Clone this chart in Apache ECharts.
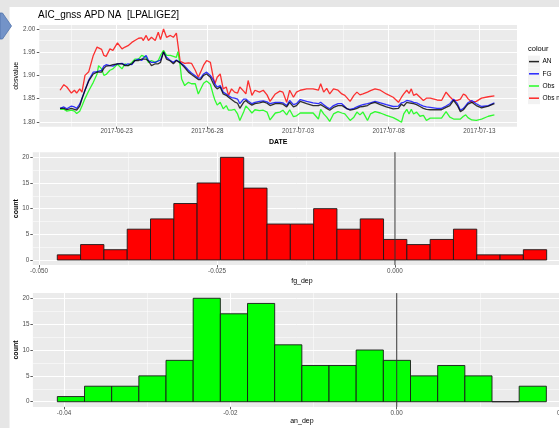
<!DOCTYPE html>
<html>
<head>
<meta charset="utf-8">
<script src="https://cdn.jsdelivr.net/npm/echarts@6/dist/echarts.min.js"></script>
<style>
html,body{margin:0;padding:0;background:#fff}
#chart{width:559px;height:428px}
</style>
</head>
<body>
<div id="chart"></div>
<script>
const dates = [
  '2017-06-19 21:00','2017-06-20 02:00','2017-06-20 06:00','2017-06-20 12:00','2017-06-20 16:00','2017-06-20 19:00','2017-06-20 23:00','2017-06-21 02:00',
  '2017-06-21 06:00','2017-06-21 11:00','2017-06-21 17:00','2017-06-21 22:00','2017-06-22 00:00','2017-06-22 04:00','2017-06-22 07:00','2017-06-22 10:00',
  '2017-06-22 15:00','2017-06-22 19:00','2017-06-23 01:00','2017-06-23 07:00','2017-06-23 11:00','2017-06-23 15:00','2017-06-23 20:00','2017-06-24 00:00',
  '2017-06-24 05:00','2017-06-24 09:00','2017-06-24 11:00','2017-06-24 15:00','2017-06-24 18:00','2017-06-24 22:00','2017-06-25 03:00','2017-06-25 07:00',
  '2017-06-25 10:00','2017-06-25 14:00',
  '2017-06-25 18:00','2017-06-25 23:00','2017-06-26 03:00','2017-06-26 07:00','2017-06-26 09:00','2017-06-26 12:00','2017-06-26 14:00','2017-06-26 18:00',
  '2017-06-26 23:00','2017-06-27 03:00','2017-06-27 08:00','2017-06-27 12:00','2017-06-27 15:00','2017-06-27 19:00','2017-06-27 23:00','2017-06-28 04:00',
  '2017-06-28 08:00','2017-06-28 10:00','2017-06-28 13:00','2017-06-28 17:00','2017-06-28 21:00','2017-06-29 01:00','2017-06-29 04:00','2017-06-29 08:00',
  '2017-06-29 12:00','2017-06-29 16:00','2017-06-29 19:00','2017-06-30 00:00','2017-06-30 03:00','2017-06-30 06:00','2017-06-30 11:00','2017-06-30 15:00',
  '2017-06-30 21:00','2017-07-01 02:00','2017-07-01 07:00','2017-07-01 11:00','2017-07-01 18:00','2017-07-02 00:00','2017-07-02 04:00',
  '2017-07-02 09:00','2017-07-02 13:00','2017-07-02 18:00','2017-07-02 22:00','2017-07-03 03:00','2017-07-03 11:30','2017-07-03 20:00','2017-07-04 03:00',
  '2017-07-04 06:00','2017-07-04 10:00','2017-07-04 14:00','2017-07-04 18:00','2017-07-04 23:00','2017-07-05 05:00','2017-07-05 10:00','2017-07-05 14:00',
  '2017-07-05 16:30','2017-07-05 21:00','2017-07-06 02:00','2017-07-06 06:00','2017-07-06 10:00','2017-07-06 14:00','2017-07-06 20:00','2017-07-07 00:00',
  '2017-07-07 06:00','2017-07-07 13:00','2017-07-07 21:00','2017-07-08 06:00','2017-07-08 13:00','2017-07-08 17:00',
  '2017-07-08 20:00','2017-07-09 00:00','2017-07-09 03:00','2017-07-09 06:00','2017-07-09 09:00','2017-07-09 13:00','2017-07-09 17:30','2017-07-09 22:00',
  '2017-07-10 02:00','2017-07-10 07:00','2017-07-10 16:00','2017-07-10 22:00','2017-07-11 04:00','2017-07-11 09:00','2017-07-11 14:00','2017-07-11 19:00',
  '2017-07-11 23:00','2017-07-12 03:00','2017-07-12 06:00','2017-07-12 09:00','2017-07-12 14:00','2017-07-12 20:00','2017-07-13 03:00','2017-07-13 12:00',
  '2017-07-13 20:00'
]
const obsNobc = [
  1.868,1.880,1.875,1.862,1.868,1.862,1.871,1.864,1.900,1.908,1.943,1.961,1.964,1.956,1.943,1.941,
  1.957,1.954,1.970,1.957,1.961,1.964,1.971,1.975,1.980,1.981,1.975,1.986,1.975,1.982,1.975,1.993,1.977,2.000,
  1.982,1.986,1.982,1.991,1.989,1.930,1.926,1.926,1.927,1.926,1.911,1.896,1.907,1.922,1.932,1.928,
  1.894,1.882,1.896,1.903,1.871,1.875,1.857,1.871,1.864,1.862,1.875,1.866,1.860,1.889,1.857,1.868,
  1.864,1.868,1.858,1.844,1.860,1.866,1.864,
  1.842,1.868,1.853,1.864,1.868,1.871,1.871,1.868,1.882,1.864,1.872,1.860,1.871,1.868,1.860,1.857,
  1.853,1.844,1.857,1.864,1.858,1.860,1.864,1.867,1.871,1.868,1.860,1.853,1.842,1.853,
  1.860,1.868,1.861,1.871,1.857,1.860,1.853,1.846,1.851,1.851,1.847,1.846,1.864,1.854,1.846,1.846,
  1.849,1.860,1.857,1.850,1.842,1.844,1.851,1.854,1.856
]
const obs = [
  1.827,1.827,1.823,1.825,1.823,1.818,1.823,1.834,1.850,1.867,1.885,1.903,1.921,1.914,1.900,1.902,
  1.911,1.914,1.924,1.914,1.925,1.921,1.928,1.935,1.935,1.943,1.941,1.939,1.928,1.932,1.928,1.932,1.943,1.954,
  1.943,1.943,1.941,1.939,1.951,1.921,1.892,1.878,1.885,1.882,1.882,1.860,1.870,1.883,1.888,1.881,
  1.857,1.847,1.836,1.842,1.828,1.835,1.825,1.825,1.827,1.817,1.803,1.821,1.834,1.829,1.819,1.826,
  1.824,1.825,1.821,1.804,1.819,1.821,1.825,
  1.815,1.826,1.811,1.813,1.819,1.819,1.819,1.806,1.827,1.817,1.810,1.801,1.817,1.822,1.819,1.817,
  1.813,1.803,1.810,1.821,1.815,1.821,1.803,1.817,1.822,1.819,1.814,1.809,1.803,1.799,
  1.817,1.827,1.817,1.827,1.817,1.821,1.812,1.814,1.803,1.808,1.808,1.808,1.822,1.810,1.806,1.806,
  1.806,1.812,1.815,1.809,1.804,1.803,1.806,1.812,1.815
]
const fg = [
  1.829,1.832,1.828,1.834,1.832,1.829,1.838,1.851,1.868,1.890,1.907,1.908,1.908,1.911,1.920,1.923,
  1.921,1.920,1.925,1.926,1.922,1.925,1.923,1.932,1.935,1.932,1.937,1.943,1.932,1.928,1.928,1.931,1.933,1.950,
  1.939,1.932,1.928,1.933,1.932,1.928,1.926,1.920,1.911,1.905,1.899,1.894,1.894,1.903,1.907,1.900,
  1.890,1.881,1.875,1.878,1.864,1.860,1.856,1.852,1.851,1.849,1.839,1.849,1.849,1.845,1.839,1.842,
  1.844,1.845,1.843,1.839,1.842,1.842,1.841,
  1.835,1.846,1.837,1.839,1.848,1.844,1.841,1.839,1.842,1.837,1.832,1.828,1.835,1.839,1.839,1.833,
  1.828,1.827,1.829,1.832,1.835,1.837,1.839,1.841,1.844,1.841,1.837,1.833,1.834,1.841,
  1.842,1.846,1.845,1.844,1.842,1.841,1.837,1.834,1.832,1.831,1.829,1.829,1.834,1.839,1.849,1.839,
  1.825,1.829,1.835,1.841,1.846,1.839,1.833,1.835,1.841
]
const an = [
  1.829,1.829,1.826,1.829,1.827,1.825,1.834,1.849,1.868,1.888,1.903,1.907,1.907,1.907,1.915,1.920,
  1.921,1.923,1.925,1.925,1.921,1.921,1.925,1.932,1.932,1.935,1.935,1.935,1.931,1.921,1.925,1.925,1.928,1.951,
  1.935,1.931,1.925,1.932,1.931,1.927,1.923,1.917,1.907,1.902,1.896,1.891,1.891,1.900,1.903,1.896,
  1.882,1.876,1.871,1.875,1.860,1.857,1.853,1.848,1.843,1.840,1.829,1.842,1.846,1.841,1.836,1.839,
  1.841,1.843,1.840,1.835,1.839,1.839,1.838,
  1.832,1.842,1.832,1.835,1.844,1.839,1.835,1.835,1.837,1.833,1.829,1.825,1.831,1.835,1.835,1.831,
  1.827,1.825,1.827,1.829,1.832,1.833,1.835,1.839,1.842,1.837,1.832,1.828,1.829,1.838,
  1.834,1.842,1.841,1.840,1.839,1.837,1.833,1.829,1.827,1.826,1.826,1.826,1.831,1.835,1.846,1.835,
  1.822,1.826,1.832,1.838,1.842,1.835,1.830,1.834,1.839
]
const dateTicks = ['2017-06-23', '2017-06-28', '2017-07-03', '2017-07-08', '2017-07-13']
const dateMinor = ['2017-06-20 12:00', '2017-06-25 12:00', '2017-06-30 12:00', '2017-07-05 12:00', '2017-07-10 12:00']
const obsTicks = [1.80, 1.85, 1.90, 1.95, 2.00]
const obsMinor = [1.825, 1.875, 1.925, 1.975]

const fgStart = -0.04743, fgBinWidth = 0.003273
const fgCounts = [1, 3, 2, 6, 8, 11, 15, 20, 14, 7, 7, 10, 6, 8, 4, 3, 4, 6, 1, 1, 2]
const fgTicks = [-0.05, -0.025, 0]
const fgMinor = [-0.0375, -0.0125, 0.0125]

const anStart = -0.0408, anBinWidth = 0.003266
const anCounts = [1, 3, 3, 5, 8, 20, 17, 19, 11, 7, 7, 10, 8, 5, 7, 5, 0, 3]
const anTicks = [-0.04, -0.02, 0, 0.02]
const anMinor = [-0.03, -0.01, 0.01]

const countTicks = [0, 5, 10, 15, 20]
const countMinor = [2.5, 7.5, 12.5, 17.5]

const seriesDefs = [
  {name: 'Obs nobc', data: obsNobc, color: '#ff0000'},
  {name: 'Obs', data: obs, color: '#00ff00'},
  {name: 'FG', data: fg, color: '#0000ff'},
  {name: 'AN', data: an, color: '#000000'}
]
const legendDefs = [
  {name: 'AN', color: '#000000'},
  {name: 'FG', color: '#0000ff'},
  {name: 'Obs', color: '#00ff00'},
  {name: 'Obs nobc', color: '#ff0000'}
]

const FONT = 'Liberation Sans, Arial, sans-serif'
const DAY = 864e5
const toTime = s => {
  let [d, t] = s.split(' ')
  return Date.parse(d + 'T' + (t || '00:00') + ':00Z')
}
const times = dates.map(toTime)
const dayZero = toTime('2017-06-23')

function axisPair(dim, grid, min, max, major, minor, fmt, margin, extra){
  let main = Object.assign({
    type: 'value', gridIndex: grid, min: min, max: max,
    position: dim == 'x' ? 'bottom' : 'left',
    axisLine: {show: false, onZero: false},
    axisTick: {show: true, length: 2.5, customValues: major, lineStyle: {color: '#333', width: 0.8}},
    axisLabel: {customValues: major, formatter: fmt, margin: margin, fontSize: 6.3, color: '#4d4d4d', fontFamily: FONT},
    splitLine: {show: true, lineStyle: {color: '#ffffff', width: 1}},
    nameLocation: 'middle',
    nameMoveOverlap: false
  }, extra)
  let sub = {
    type: 'value', gridIndex: grid, min: min, max: max,
    position: dim == 'x' ? 'top' : 'right',
    axisLine: {show: false, onZero: false},
    axisTick: {show: false, customValues: minor},
    axisLabel: {show: false},
    splitLine: {show: true, lineStyle: {color: '#ffffff', width: 0.5}}
  }
  return [main, sub]
}

function histItems(start, width, counts){
  return counts.map((c, i) => [start + i * width, start + (i + 1) * width, c])
}

function histSeries(xi, data, color){
  return {
    type: 'custom', xAxisIndex: xi, yAxisIndex: xi,
    encode: {x: [0, 1], y: 2},
    data: data,
    renderItem: (params, api) => {
      let p0 = api.coord([api.value(0), api.value(2)])
      let p1 = api.coord([api.value(1), 0])
      return {
        type: 'rect',
        shape: {x: p0[0], y: p0[1], width: p1[0] - p0[0], height: p1[1] - p0[1]},
        style: {fill: color, stroke: '#1a1a1a', lineWidth: 0.9}
      }
    }
  }
}

function zeroLine(xi){
  return {
    type: 'line', xAxisIndex: xi, yAxisIndex: xi,
    data: [[0, -1], [0, 21]],
    symbol: 'none', silent: true,
    lineStyle: {color: '#333', width: 1}
  }
}

const titleStyle = {fontSize: 7, color: '#000', fontFamily: FONT}
const boldTitle = Object.assign({}, titleStyle, {fontWeight: 'bold'})
const fmtDate = v => new Date(v).toISOString().slice(0, 10)

let xAxes = [].concat(
  axisPair('x', 0, dayZero - 4.27 * DAY, dayZero + 22.08 * DAY, dateTicks.map(toTime), dateMinor.map(toTime), fmtDate, 2,
    {name: 'DATE', nameGap: 11.5, nameTextStyle: boldTitle}),
  axisPair('x', 1, -0.05087, 0.02472, fgTicks, fgMinor, v => v.toFixed(3), 3,
    {name: 'fg_dep', nameGap: 12, nameTextStyle: titleStyle}),
  axisPair('x', 2, -0.04374, 0.02094, anTicks, anMinor, v => v.toFixed(2), 3,
    {name: 'an_dep', nameGap: 11, nameTextStyle: titleStyle})
)
let yAxes = [].concat(
  axisPair('y', 0, 1.7895, 2.0085, obsTicks, obsMinor, v => v.toFixed(2), 4,
    {name: 'obsvalue', nameRotate: 90, nameGap: 20, nameTextStyle: titleStyle}),
  axisPair('y', 1, -1, 21, countTicks, countMinor, v => String(v), 3.5,
    {name: 'count', nameRotate: 90, nameGap: 13.5, nameTextStyle: boldTitle}),
  axisPair('y', 2, -1, 21, countTicks, countMinor, v => String(v), 3.5,
    {name: 'count', nameRotate: 90, nameGap: 13.5, nameTextStyle: boldTitle})
)

const gridBase = {show: true, backgroundColor: '#ebebeb', borderWidth: 0, containLabel: false, outerBoundsMode: 'none'}

let series = seriesDefs.map(s => ({
  name: s.name, type: 'line', xAxisIndex: 0, yAxisIndex: 0,
  data: times.map((t, i) => [t, s.data[i]]),
  symbol: 'none', showSymbol: false,
  lineStyle: {color: s.color, width: 1.3, opacity: 0.8}
}))
series.push(histSeries(2, histItems(fgStart, fgBinWidth, fgCounts), '#ff0000'))
series.push(zeroLine(2))
series.push(histSeries(4, histItems(anStart, anBinWidth, anCounts), '#00ff00'))
series.push(zeroLine(4))

let graphic = [
  {type: 'rect', shape: {x: 0, y: 0, width: 559, height: 7}, style: {fill: '#e6e6e6'}, z: 100},
  {type: 'rect', shape: {x: 0, y: 0, width: 9.5, height: 428}, style: {fill: '#e6e6e6'}, z: 100},
  {type: 'polygon', shape: {points: [[0, 13], [2.5, 13], [11.5, 26], [2.5, 39], [0, 39]]},
    style: {fill: '#7393c8', stroke: '#4f72ab', lineWidth: 0.8}, z: 101},
  {type: 'text', x: 38, y: 15, z: 100,
    style: {text: 'AIC_gnss APD NA  [LPALIGE2]', fontSize: 10, fill: '#000', fontFamily: FONT, verticalAlign: 'middle'}},
  {type: 'text', x: 528, y: 49, z: 100,
    style: {text: 'colour', fontSize: 7.5, fill: '#000', fontFamily: FONT, verticalAlign: 'middle'}}
]
legendDefs.forEach((l, i) => {
  let cy = 61.6 + i * 12.2
  graphic.push({type: 'rect', shape: {x: 528, y: cy - 6, width: 12, height: 12}, style: {fill: '#f2f2f2'}, z: 100})
  graphic.push({type: 'line', shape: {x1: 529, y1: cy, x2: 539, y2: cy}, style: {stroke: l.color, lineWidth: 1.5, opacity: 0.85}, z: 101})
  graphic.push({type: 'text', x: 542.5, y: cy, z: 101,
    style: {text: l.name, fontSize: 6.5, fill: '#000', fontFamily: FONT, verticalAlign: 'middle'}})
})

let chart = echarts.init(document.getElementById('chart'))
chart.setOption({
  backgroundColor: '#ffffff',
  animation: false,
  grid: [
    Object.assign({left: 39.3, top: 25, width: 477.7, height: 101.7}, gridBase),
    Object.assign({left: 32.8, top: 152.2, width: 538.2, height: 112.9}, gridBase),
    Object.assign({left: 32.9, top: 293.1, width: 538, height: 113.8}, gridBase)
  ],
  xAxis: xAxes,
  yAxis: yAxes,
  series: series,
  graphic: graphic
})
</script>
</body>
</html>
